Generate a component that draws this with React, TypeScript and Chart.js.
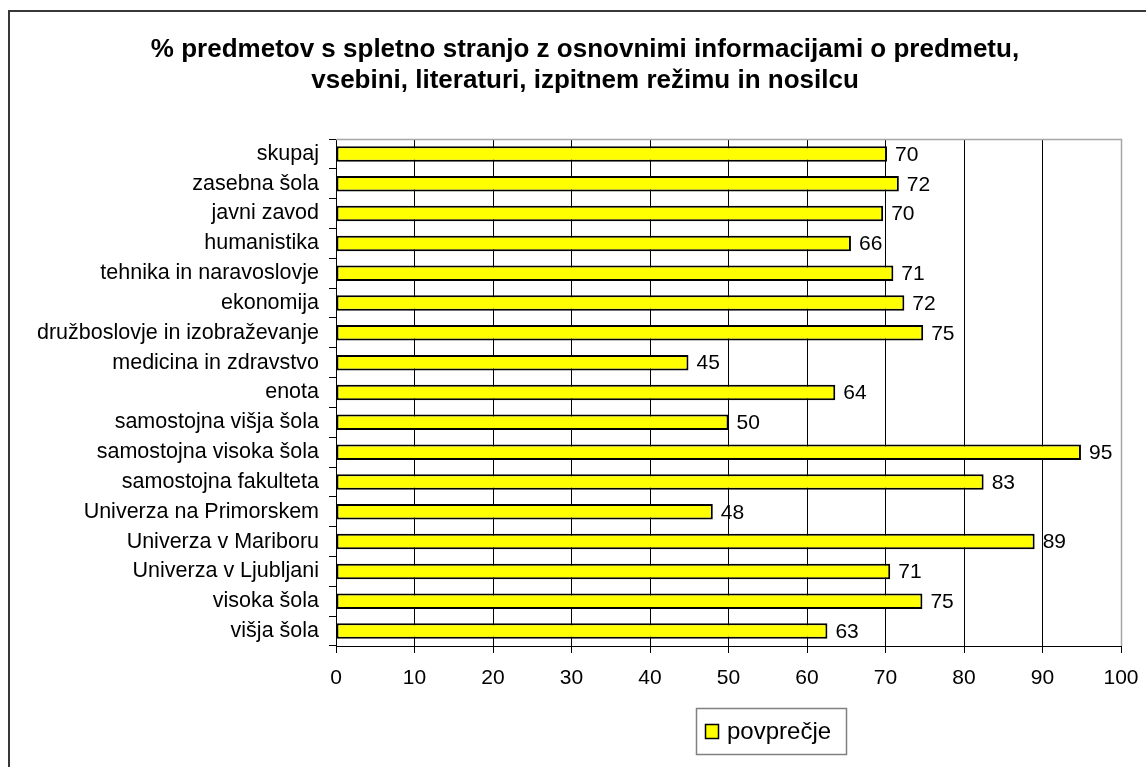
import React, { useEffect, useRef } from "react";
import { Chart, registerables } from "chart.js";

Chart.register(...registerables);

const categories = [
  "skupaj",
  "zasebna šola",
  "javni zavod",
  "humanistika",
  "tehnika in naravoslovje",
  "ekonomija",
  "družboslovje in izobraževanje",
  "medicina in zdravstvo",
  "enota",
  "samostojna višja šola",
  "samostojna visoka šola",
  "samostojna fakulteta",
  "Univerza na Primorskem",
  "Univerza v Mariboru",
  "Univerza v Ljubljani",
  "visoka šola",
  "višja šola",
];

const povprecje = [70.2, 71.7, 69.7, 65.6, 71.0, 72.4, 74.8, 44.9, 63.6, 50.0, 94.9, 82.5, 48.0, 89.0, 70.6, 74.7, 62.6];

const seriesLabel = "povprečje";
const titleLines = [
  "% predmetov s spletno stranjo z osnovnimi informacijami o predmetu,",
  "vsebini, literaturi, izpitnem režimu in nosilcu",
];
const xMin = 0;
const xMax = 100;
const xStep = 10;

const FONT = "'Liberation Sans', Arial, sans-serif";

const framePlugin = {
  id: "frame",
  beforeDraw(chart: any) {
    const ctx = chart.ctx;
    ctx.save();
    ctx.fillStyle = "#ffffff";
    ctx.fillRect(0, 0, chart.width, chart.height);
    ctx.strokeStyle = "#383838";
    ctx.lineWidth = 2;
    ctx.strokeRect(9, 11, 1400, 1000);
    // title
    ctx.fillStyle = "#000";
    ctx.font = `bold 26px ${FONT}`;
    ctx.textAlign = "center";
    ctx.textBaseline = "alphabetic";
    ctx.fillText(titleLines[0], 585, 57);
    ctx.fillText(titleLines[1], 585, 88);
    ctx.restore();
  },
  beforeDatasetsDraw(chart: any) {
    const { ctx, chartArea } = chart;
    ctx.save();
    ctx.strokeStyle = "#a6a6a6";
    ctx.lineWidth = 1.5;
    ctx.beginPath();
    ctx.moveTo(chartArea.left, chartArea.top + 0.5);
    ctx.lineTo(chartArea.right + 0.5, chartArea.top + 0.5);
    ctx.lineTo(chartArea.right + 0.5, chartArea.bottom);
    ctx.stroke();
    ctx.restore();
  },
  afterDatasetsDraw(chart: any) {
    const ctx = chart.ctx;
    const meta = chart.getDatasetMeta(0);
    const data = chart.data.datasets[0].data as number[];
    ctx.save();
    ctx.font = `21px ${FONT}`;
    ctx.fillStyle = "#000";
    ctx.textAlign = "left";
    ctx.textBaseline = "middle";
    meta.data.forEach((bar: any, i: number) => {
      ctx.fillText(String(Math.round(data[i])), bar.x + 8, bar.y + 1);
    });
    ctx.restore();
  },
  afterDraw(chart: any) {
    const ctx = chart.ctx;
    const ds = chart.data.datasets[0];
    ctx.save();
    ctx.strokeStyle = "#808080";
    ctx.lineWidth = 1.5;
    ctx.strokeRect(696.5, 708.5, 150, 46);
    ctx.fillStyle = ds.backgroundColor;
    ctx.fillRect(705.5, 724.5, 13, 14);
    ctx.strokeStyle = "#000";
    ctx.lineWidth = 1.5;
    ctx.strokeRect(705.5, 724.5, 13, 14);
    ctx.font = `24px ${FONT}`;
    ctx.fillStyle = "#000";
    ctx.textAlign = "left";
    ctx.textBaseline = "middle";
    ctx.fillText(ds.label, 727, 732);
    ctx.restore();
  },
};

export default function App() {
  const canvasRef = useRef<HTMLCanvasElement | null>(null);

  useEffect(() => {
    if (!canvasRef.current) return;
    const chart = new Chart(canvasRef.current, {
      type: "bar",
      data: {
        labels: categories,
        datasets: [
          {
            label: seriesLabel,
            data: povprecje,
            backgroundColor: "#ffff00",
            borderColor: "#000000",
            borderWidth: 2,
            borderSkipped: false,
            categoryPercentage: 0.52,
            barPercentage: 1.0,
          },
        ],
      },
      options: {
        indexAxis: "y",
        responsive: false,
        animation: false,
        layout: { padding: { left: 0, right: 25, top: 139, bottom: 0 } },
        plugins: {
          legend: { display: false },
          tooltip: { enabled: false },
          title: { display: false },
        },
        scales: {
          x: {
            type: "linear",
            min: xMin,
            max: xMax,
            ticks: {
              stepSize: xStep,
              color: "#000",
              font: { family: FONT, size: 21, lineHeight: "42px" },
              padding: 4,
              maxRotation: 0,
            },
            grid: {
              color: "#000",
              lineWidth: 1,
              tickLength: 7,
              drawOnChartArea: true,
              drawTicks: true,
            },
            border: { display: true, color: "#000", width: 1 },
            afterFit(scale: any) {
              scale.height = 121;
            },
          },
          y: {
            type: "category",
            ticks: {
              color: "#000",
              font: { family: FONT, size: 21.5 },
              padding: 10,
              autoSkip: false,
            },
            grid: {
              offset: true,
              drawOnChartArea: false,
              drawTicks: true,
              tickLength: 7,
              color: "#000",
            },
            border: { display: true, color: "#000", width: 1 },
            afterFit(scale: any) {
              scale.width = 336;
            },
          },
        },
      },
      plugins: [framePlugin],
    } as any);
    return () => chart.destroy();
  }, []);

  return (
    <div style={{ position: "absolute", left: 0, top: 0, width: 1146, height: 767, background: "#fff" }}>
      <canvas ref={canvasRef} width={1146} height={767} style={{ display: "block" }} />
    </div>
  );
}
